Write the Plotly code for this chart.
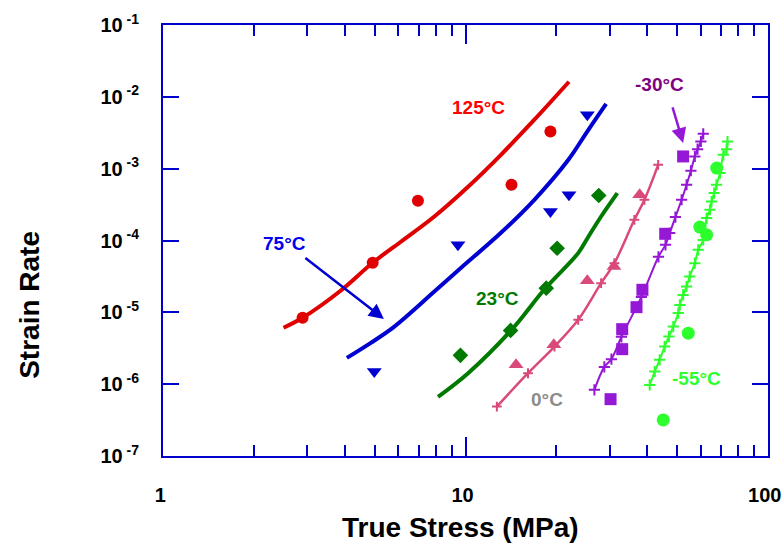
import math
import plotly.graph_objects as go

# ---- measured creep curves (true stress in MPa, strain rate in 1/s) ----
c125_stress = [2.50, 2.89, 3.86, 4.93, 6.11, 7.87, 10.2, 13.1, 16.9, 22.0]
c125_rate = [6.1e-6, 8.4e-6, 2.0e-5, 4.9e-5, 9.6e-5, 2.14e-4, 5.6e-4, 1.56e-3, 4.8e-3, 1.62e-2]

c75_stress = [4.05, 4.86, 5.80, 7.87, 9.67, 13.1, 16.9, 21.9, 25.5, 29.2]
c75_rate = [2.32e-6, 3.76e-6, 6.28e-6, 1.93e-5, 4.17e-5, 1.28e-4, 3.69e-4, 1.33e-3, 3.48e-3, 8.0e-3]

c23_stress = [8.11, 10.2, 14.2, 18.2, 23.6, 25.5, 28.1, 31.8]
c23_rate = [6.65e-7, 1.42e-6, 5.7e-6, 2.06e-5, 6.68e-5, 1.13e-4, 2.16e-4, 4.57e-4]

c0_stress = [12.7, 16.1, 19.7, 23.6, 28.1, 31.1, 36.2, 39.1, 43.4]
c0_rate = [4.88e-7, 1.42e-6, 3.34e-6, 7.87e-6, 2.55e-5, 4.84e-5, 1.94e-4, 3.69e-4, 1.13e-3]

cm30_stress = [26.7, 28.8, 30.4, 32.8, 38.2, 43.5, 45.9, 47.4, 49.5, 51.9, 53.9, 55.7, 57.4, 58.6, 60.1, 61.2]
cm30_rate = [8.33e-7, 1.74e-6, 2.23e-6, 4.56e-6, 1.64e-5, 5.93e-5, 8.7e-5, 1.27e-4, 2.12e-4,
             3.69e-4, 5.97e-4, 9.35e-4, 1.48e-3, 1.87e-3, 2.39e-3, 3.06e-3]

cm55_stress = [40.7, 42.3, 43.9, 45.6, 47.1, 48.7, 50.6, 51.2, 52.5, 53.9, 55.2, 57.4, 58.9,
               61.2, 62.8, 64.4, 65.2, 66.5, 67.7, 69.5, 71.3, 73.1, 73.6]
cm55_rate = [9.77e-7, 1.5e-6, 2.18e-6, 3.34e-6, 4.6e-6, 6.34e-6, 9.75e-6, 1.27e-5, 1.75e-5, 2.29e-5,
             3.16e-5, 4.84e-5, 7.41e-5, 1.02e-4, 2.05e-4, 2.68e-4, 3.49e-4, 4.57e-4, 5.97e-4,
             8.69e-4, 1.56e-3, 1.87e-3, 2.39e-3]

# ---- model / reference points ----
p125_stress = [2.89, 4.93, 6.96, 14.2, 19.1]
p125_rate = [8.4e-6, 4.9e-5, 3.57e-4, 5.97e-4, 3.3e-3]

p75_stress = [4.99, 9.44, 19.1, 22.0, 25.3]
p75_rate = [1.5e-6, 8.7e-5, 2.54e-4, 4.33e-4, 5.63e-3]

p23_stress = [9.62, 14.1, 18.5, 20.1, 27.6]
p23_rate = [2.52e-6, 5.6e-6, 2.17e-5, 7.8e-5, 4.23e-4]

p0_stress = [14.7, 19.6, 25.3, 31.0, 37.7]
p0_rate = [1.86e-6, 3.53e-6, 2.75e-5, 4.35e-5, 4.33e-4]

pm30_stress = [30.2, 33.0, 33.0, 36.8, 38.5, 45.8, 52.5]
pm30_rate = [6.18e-7, 3.07e-6, 5.83e-6, 1.18e-5, 2.06e-5, 1.24e-4, 1.48e-3]

pm55_stress = [45.1, 54.6, 59.6, 62.8, 67.8]
pm55_rate = [3.18e-7, 5.13e-6, 1.54e-4, 1.2e-4, 1.02e-3]

# ---- temperature labels ----
label_text = ["125°C", "75°C", "23°C", "0°C", "-30°C", "-55°C"]
label_stress = [11.0, 2.52, 12.8, 18.6, 43.8, 58.2]
label_rate = [7.05e-3, 9.0e-5, 1.54e-5, 6.1e-7, 1.47e-2, 1.19e-6]

# ---- axis ticks ----
x_ticks = [1, 10, 100]
x_ticktext = ["1", "10", "100"]
x_minor = [2, 3, 4, 5, 6, 7, 8, 9, 20, 30, 40, 50, 60, 70, 80, 90]
y_ticks = [1e-7, 1e-6, 1e-5, 1e-4, 1e-3, 1e-2, 1e-1]
y_ticktext = ["10<sup> -7</sup>", "10<sup> -6</sup>", "10<sup> -5</sup>", "10<sup> -4</sup>",
              "10<sup> -3</sup>", "10<sup> -2</sup>", "10<sup> -1</sup>"]

RED = "#e00000"
BLUE = "#0000d0"
GREEN = "#007a00"
PINK = "#d94a7a"
PURPLE = "#9418d6"
LIME = "#2cff2c"
AXIS = "#0000cc"
FONT = "Liberation Sans"

fig = go.Figure()

curves = [
    (c125_stress, c125_rate, RED, 4, None),
    (c75_stress, c75_rate, BLUE, 4, None),
    (c23_stress, c23_rate, GREEN, 4, None),
    (c0_stress, c0_rate, PINK, 2.5, 7),
    (cm30_stress, cm30_rate, PURPLE, 2, 8),
    (cm55_stress, cm55_rate, LIME, 2, 8),
]
for xs, ys, col, w, msize in curves:
    mode = "lines+markers" if msize else "lines"
    fig.add_trace(go.Scatter(
        x=xs, y=ys, mode=mode,
        line=dict(color=col, width=w, shape="spline", smoothing=1.0),
        marker=dict(symbol="cross-thin", size=msize or 1, line=dict(color=col, width=2)),
        showlegend=False, hoverinfo="skip",
    ))

points = [
    (p125_stress, p125_rate, RED, "circle", 12),
    (p75_stress, p75_rate, BLUE, "triangle-down", 13),
    (p23_stress, p23_rate, GREEN, "diamond", 12),
    (p0_stress, p0_rate, PINK, "triangle-up", 13),
    (pm30_stress, pm30_rate, PURPLE, "square", 12),
    (pm55_stress, pm55_rate, LIME, "circle", 13),
]
for xs, ys, col, sym, size in points:
    fig.add_trace(go.Scatter(
        x=xs, y=ys, mode="markers",
        marker=dict(symbol=sym, size=size, color=col, line=dict(width=0)),
        showlegend=False, hoverinfo="skip",
    ))

label_colors = ["#ff0000", "#0000ee", GREEN, "#8c8c8c", "#800080", LIME]
for txt, sx, ry, col in zip(label_text, label_stress, label_rate, label_colors):
    fig.add_annotation(x=math.log10(sx), y=math.log10(ry), text=txt, showarrow=False,
                       xanchor="center", yanchor="middle",
                       font=dict(family=FONT, size=19, color=col, weight="bold"))

# arrows pointing at the 75°C and -30°C data
fig.add_annotation(x=math.log10(5.37), y=math.log10(8.1e-6), ax=-80, ay=-62, text="",
                   showarrow=True, arrowhead=2, arrowsize=1.2, arrowwidth=2.5, arrowcolor=BLUE)
fig.add_annotation(x=math.log10(52.5), y=math.log10(2.28e-3), ax=-11, ay=-37, text="",
                   showarrow=True, arrowhead=2, arrowsize=1.2, arrowwidth=2.5, arrowcolor=PURPLE)

# axis titles
fig.add_annotation(xref="paper", yref="paper", x=-0.222, y=0.35, text="Strain Rate",
                   textangle=-90, showarrow=False, xanchor="center", yanchor="middle",
                   font=dict(family=FONT, size=28, color="black", weight="bold"))
fig.add_annotation(xref="paper", yref="paper", x=0.491, y=-0.165, text="True Stress (MPa)",
                   showarrow=False, xanchor="center", yanchor="middle",
                   font=dict(family=FONT, size=28, color="black", weight="bold"))

fig.update_xaxes(
    type="log", range=[-0.001, 2.001], tickvals=x_ticks, ticktext=x_ticktext,
    ticks="inside", ticklen=19, tickwidth=2, tickcolor=AXIS,
    minor=dict(tickvals=x_minor, ticks="inside", ticklen=11, tickwidth=2, tickcolor=AXIS),
    showline=True, linecolor=AXIS, linewidth=2, mirror="ticks",
    showgrid=False, zeroline=False, ticklabelstandoff=20, ticklabeloverflow="allow",
    ticklabelshift=-3, automargin=False,
    tickfont=dict(family=FONT, size=20, color="black", weight="bold"),
)
fig.update_yaxes(
    type="log", range=[-7, -1], tickvals=y_ticks, ticktext=y_ticktext,
    ticks="inside", ticklen=16, tickwidth=2, tickcolor=AXIS,
    showline=True, linecolor=AXIS, linewidth=2, mirror="ticks",
    showgrid=False, zeroline=False, ticklabelstandoff=18, automargin=False,
    tickfont=dict(family=FONT, size=20, color="black", weight="bold"),
)
fig.update_layout(
    width=784, height=545,
    margin=dict(l=163, r=16, t=25, b=89),
    plot_bgcolor="white", paper_bgcolor="white",
)

fig.write_html("out.html")
